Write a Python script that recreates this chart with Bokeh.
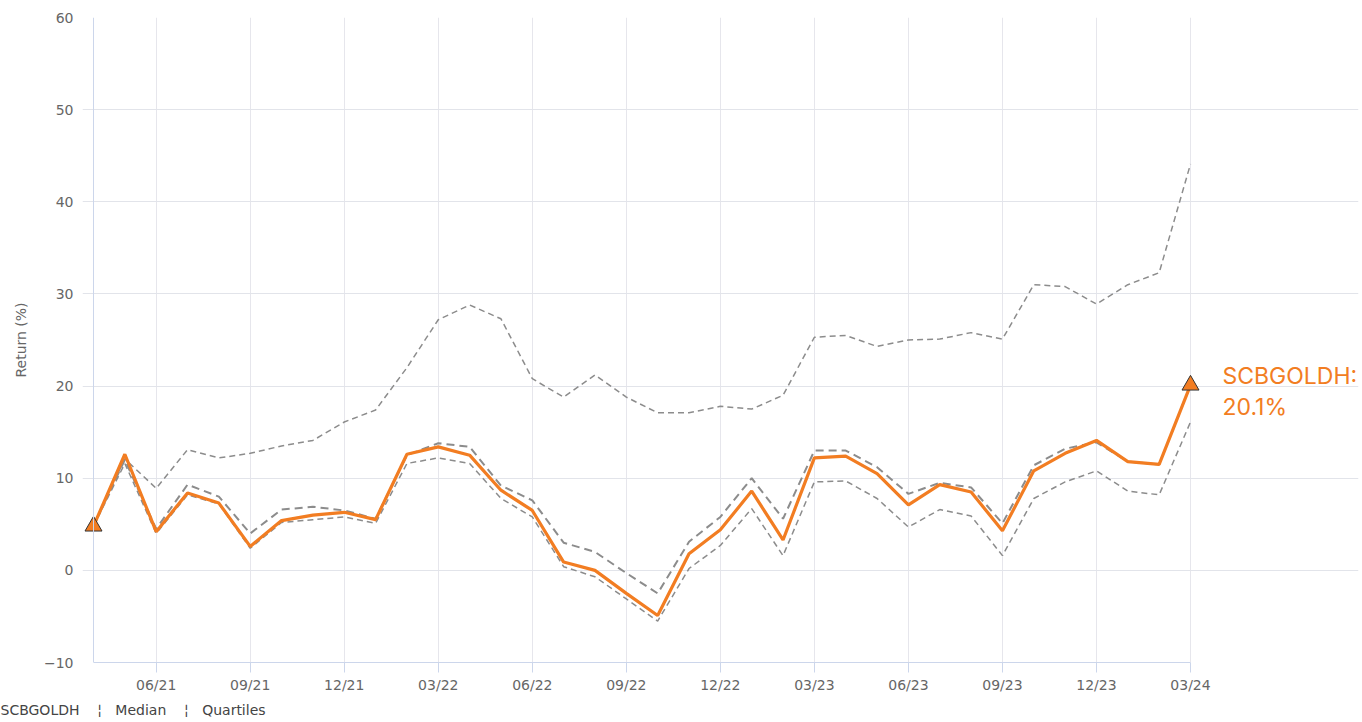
from bokeh.plotting import figure
from bokeh.models import Range1d, FixedTicker, Label, ColumnDataSource, Title, Span
from bokeh.embed import file_html
from bokeh.resources import INLINE

# ---- data (monthly, 04/21 .. 03/24) ----
months = ["04/21", "05/21", "06/21", "07/21", "08/21", "09/21", "10/21", "11/21", "12/21",
          "01/22", "02/22", "03/22", "04/22", "05/22", "06/22", "07/22", "08/22", "09/22",
          "10/22", "11/22", "12/22", "01/23", "02/23", "03/23", "04/23", "05/23", "06/23",
          "07/23", "08/23", "09/23", "10/23", "11/23", "12/23", "01/24", "02/24", "03/24"]
fund = [4.8, 12.6, 4.2, 8.4, 7.3, 2.6, 5.4, 6.0, 6.3, 5.5, 12.6, 13.4,
        12.5, 8.7, 6.5, 0.9, 0.0, -2.5, -4.9, 1.8, 4.4, 8.6, 3.3, 12.2,
        12.4, 10.5, 7.1, 9.3, 8.5, 4.3, 10.8, 12.7, 14.1, 11.8, 11.5, 20.1]
median = [4.8, 12.0, 4.5, 9.3, 8.0, 4.0, 6.6, 6.9, 6.5, 5.6, 12.5, 13.8,
          13.4, 9.2, 7.6, 3.0, 2.0, -0.3, -2.5, 3.1, 5.8, 10.0, 5.6, 13.0,
          13.0, 11.2, 8.3, 9.5, 9.0, 5.1, 11.4, 13.2, 13.9, 11.8, 11.5, 20.1]
upper_q = [4.8, 12.1, 8.9, 13.1, 12.2, 12.7, 13.5, 14.1, 16.1, 17.4, 22.0, 27.2,
           28.8, 27.3, 20.8, 18.8, 21.2, 18.8, 17.1, 17.1, 17.8, 17.5, 19.0, 25.3,
           25.5, 24.3, 25.0, 25.1, 25.8, 25.1, 31.0, 30.8, 28.9, 31.0, 32.3, 44.1]
lower_q = [4.8, 11.6, 4.0, 8.2, 7.2, 2.4, 5.2, 5.5, 5.8, 5.1, 11.6, 12.2,
           11.6, 7.8, 5.8, 0.4, -0.7, -3.1, -5.5, 0.2, 2.7, 6.7, 1.6, 9.6,
           9.7, 7.8, 4.7, 6.6, 5.9, 1.6, 7.8, 9.6, 10.8, 8.6, 8.2, 16.1]
fund_name = "SCBGOLDH"
legend_labels = ["SCBGOLDH", "Median", "Quartiles"]
y_ticks = [-10, 0, 10, 20, 30, 40, 50, 60]
x_tick_idx = [2, 5, 8, 11, 14, 17, 20, 23, 26, 29, 32, 35]

idx = list(range(len(months)))
n_last = idx[-1]
src = ColumnDataSource(dict(x=idx, fund=fund, median=median, uq=upper_q, lq=lower_q))

ORANGE = "#F27D22"
GRAY = "#8c8c8c"
AXIS_COL = "#ccd6eb"
TICK_FONT = "DejaVu Sans"

W, H = 1360, 722
LEFT, RIGHT, TOP, BOTTOM = 82, 2, 17, 60
DATA_LEFT_PX, DATA_RIGHT_PX = 93, 1190   # first / last month positions
ppu = (DATA_RIGHT_PX - DATA_LEFT_PX) / n_last
x_start = -(DATA_LEFT_PX - LEFT) / ppu
x_end = n_last + (W - RIGHT - DATA_RIGHT_PX) / ppu

p = figure(width=W, height=H, output_backend="svg", toolbar_location=None,
           x_range=Range1d(x_start, x_end), y_range=Range1d(-10, 60),
           min_border_left=LEFT, min_border_right=RIGHT, min_border_top=TOP,
           min_border_bottom=BOTTOM)
p.outline_line_color = None
p.background_fill_color = "white"

# axes
p.yaxis.ticker = FixedTicker(ticks=y_ticks)
p.yaxis.major_label_overrides = {-10: "\u221210"}
p.xaxis.ticker = FixedTicker(ticks=x_tick_idx)
p.xaxis.major_label_overrides = {i: months[i] for i in x_tick_idx}
p.xaxis.bounds = (0, n_last)
for ax in (p.xaxis, p.yaxis):
    ax.axis_line_color = AXIS_COL
    ax.major_tick_line_color = AXIS_COL
    ax.minor_tick_line_color = None
    ax.major_tick_in = 0
    ax.major_label_text_font = TICK_FONT
    ax.major_label_text_font_size = "14px"
    ax.major_label_text_color = "#666666"
p.yaxis.axis_line_color = None
p.yaxis.major_tick_line_color = None
p.yaxis.major_tick_out = 0
p.yaxis.major_label_standoff = 9
p.xaxis.major_tick_out = 10
p.xaxis.major_label_standoff = 4
p.yaxis.axis_label = "Return (%)"
p.yaxis.axis_label_text_font = TICK_FONT
p.yaxis.axis_label_text_font_size = "14px"
p.yaxis.axis_label_text_font_style = "normal"
p.yaxis.axis_label_text_color = "#666666"
p.yaxis.axis_label_standoff = 12

p.ygrid.grid_line_color = "#e2e4ea"
p.ygrid.bounds = (x_start, n_last)
p.xgrid.grid_line_color = "#e6e6ec"
p.xgrid.ticker = FixedTicker(ticks=x_tick_idx)

# vertical axis line at the first month
p.add_layout(Span(location=0, dimension="height", line_color=AXIS_COL, line_width=1))

# lines
p.line("x", "uq", source=src, line_color=GRAY, line_width=1.5, line_dash="6 4")
p.line("x", "lq", source=src, line_color=GRAY, line_width=1.5, line_dash="6 4")
p.line("x", "median", source=src, line_color=GRAY, line_width=2, line_dash="8 5")
p.line("x", "fund", source=src, line_color=ORANGE, line_width=3.2)
p.scatter([idx[0], idx[-1]], [fund[0], fund[-1]], marker="triangle", size=17,
          fill_color=ORANGE, line_color="#333333", line_width=1)

# end label
p.add_layout(Label(x=n_last, y=fund[-1], x_offset=32, y_offset=9, text=fund_name + ":",
                   text_align="left", text_baseline="middle", text_font="Inter",
                   text_font_size="23px", text_color=ORANGE))
p.add_layout(Label(x=n_last, y=fund[-1], x_offset=32, y_offset=-22,
                   text="%.1f%%" % fund[-1],
                   text_align="left", text_baseline="middle", text_font="Inter",
                   text_font_size="23px", text_color=ORANGE))

# legend row (text only, separated by broken bars)
sep = "\u00a0" * 4 + "\u00a6" + "\u00a0" * 3
legend_title = Title(text=sep.join(legend_labels), align="left", offset=-LEFT,
                     text_font=TICK_FONT, text_font_size="14px", text_font_style="normal",
                     text_color="#444444", standoff=9)
p.add_layout(legend_title, "below")

open("out.html", "w").write(file_html(p, INLINE))
